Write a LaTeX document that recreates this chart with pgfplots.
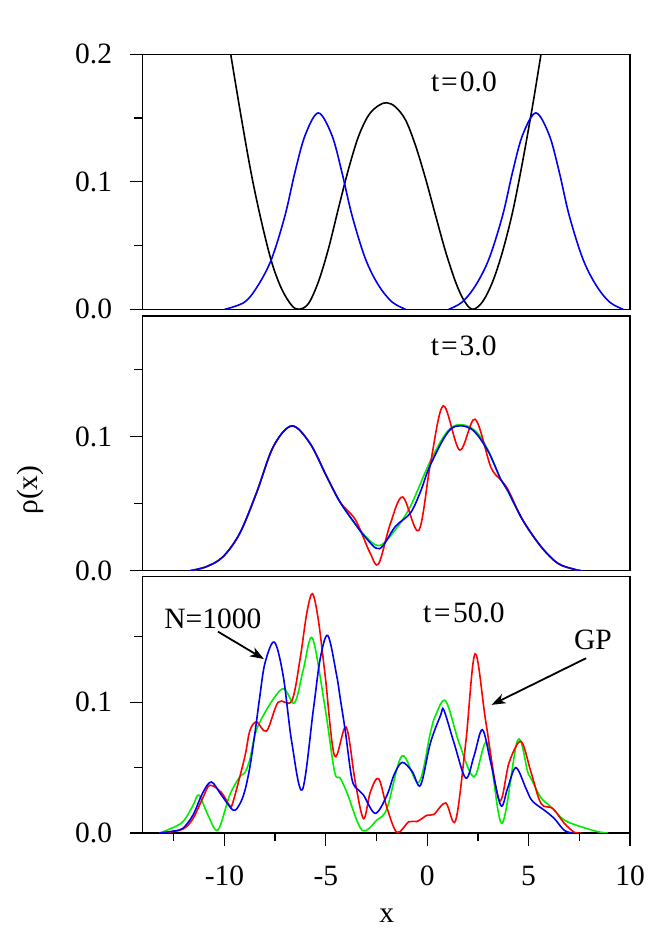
\documentclass[border=0pt]{standalone}
\usepackage{pgfplots}
\pgfplotsset{compat=1.18}
\usetikzlibrary{arrows.meta}
\usepackage{fontspec}
\setmainfont{Liberation Serif}
\newcommand\bigf{\fontsize{29.5}{34}\selectfont}
\definecolor{cR}{rgb}{1,0,0}
\definecolor{cG}{rgb}{0,0.93,0}
\definecolor{cB}{rgb}{0,0,0.95}
\pgfplotsset{
  panel/.style={
    scale only axis, width=487.7pt, xmin=-14.05, xmax=10, ymin=0,
    axis line style={line width=1.4pt},
    tick style={line width=1.3pt, black},
    tick align=outside,
    major tick length=12.5pt, minor tick length=8pt,
    ytick={0,0.1,0.2}, minor ytick={0.05,0.15},
    ytick pos=left, xtick pos=bottom,
    /pgf/number format/assume math mode=true,
    tick label style={font=\bigf},
    yticklabel style={/pgf/number format/fixed, /pgf/number format/fixed zerofill, /pgf/number format/precision=1, anchor=east, inner sep=0pt, xshift=-17.5pt},
    xticklabel style={anchor=north, inner sep=0pt, yshift=-20pt},
    every axis plot/.append style={line width=1.6pt, smooth, tension=0.55},
    clip=true,
  },
  notx/.style={xtick=\empty, minor xtick={}},
}
\begin{document}
\begin{tikzpicture}[x=1pt,y=1pt]
\useasboundingbox (0,0) rectangle (654,934);
% ---------------- top panel t=0
\begin{axis}[panel, notx, at={(142.3pt,624.7pt)}, anchor=south west, height=255pt, ymax=0.2]
\addplot[black] coordinates {(-9.69,0.2) (-9.16,0.1495) (-8.66,0.105) (-8.17,0.0685) (-7.67,0.037) (-7.18,0.016) (-6.68,0.003) (-6.32,0) (-5.86,0.0044) (-5.37,0.0214) (-4.87,0.0475) (-4.38,0.079) (-3.88,0.110) (-3.39,0.1355) (-2.89,0.1522) (-2.40,0.1598) (-2.00,0.162) (-1.57,0.1588) (-1.07,0.1485) (-0.58,0.1286) (-0.08,0.1024) (0.41,0.0737) (0.91,0.045) (1.40,0.0214) (1.81,0.007) (2.23,0) (2.72,0.0057) (3.22,0.0214) (3.71,0.045) (4.21,0.0763) (4.70,0.1155) (5.20,0.160) (5.61,0.2)};
\addplot[cB] coordinates {(-9.98,0) (-9.0,0.0057) (-8.34,0.0188) (-7.67,0.0397) (-7.01,0.0737) (-6.52,0.1077) (-6.02,0.1365) (-5.37,0.154) (-4.70,0.1365) (-4.21,0.1077) (-3.71,0.0737) (-3.05,0.0397) (-2.40,0.0188) (-1.73,0.0057) (-1.07,0)};
\addplot[cB] coordinates {(1.06,0) (1.73,0.0057) (2.39,0.0188) (3.05,0.0397) (3.72,0.0737) (4.21,0.1077) (4.70,0.1365) (5.36,0.154) (6.02,0.1365) (6.51,0.1077) (7.00,0.0737) (7.67,0.0397) (8.33,0.0188) (8.99,0.0057) (9.66,0)};
\node[font=\bigf] at (axis cs:1.81,0.1785) {t\kern2pt=\kern2pt0.0};
\end{axis}
% ---------------- middle panel t=3
\begin{axis}[panel, notx, at={(142.3pt,363.3pt)}, anchor=south west, height=254.7pt, ymax=0.19]
\addplot[cG] coordinates {(-11.7,0) (-10.89,0.003) (-10.07,0.0104) (-9.24,0.028) (-8.42,0.058) (-7.59,0.0925) (-6.68,0.108) (-5.78,0.095) (-4.95,0.070) (-4.29,0.051) (-3.30,0.030) (-2.40,0.0187) (-1.6,0.030) (-0.83,0.048) (0.16,0.082) (1.0,0.104) (1.65,0.109) (2.4,0.104) (3.0,0.090) (3.63,0.068) (3.96,0.060) (4.70,0.038) (5.61,0.018) (6.44,0.0055) (7.26,0.001) (7.6,0)};
\addplot[cR] coordinates {(-11.7,0) (-10.89,0.003) (-10.07,0.0104) (-9.24,0.028) (-8.42,0.058) (-7.59,0.0925) (-6.68,0.108) (-5.78,0.095) (-4.95,0.070) (-4.29,0.051) (-3.63,0.040) (-3.30,0.0304) (-2.81,0.013) (-2.40,0.005) (-1.82,0.035) (-1.21,0.055) (-0.42,0.030) (0.16,0.080) (0.79,0.123) (1.60,0.090) (2.36,0.113) (3.13,0.0776) (3.63,0.0677) (4.0,0.060) (4.70,0.038) (5.61,0.018) (6.44,0.0055) (7.26,0.001) (7.6,0)};
\addplot[cB] coordinates {(-11.7,0) (-10.89,0.003) (-10.07,0.0104) (-9.24,0.028) (-8.42,0.058) (-7.59,0.0925) (-6.68,0.108) (-5.78,0.095) (-4.95,0.070) (-4.29,0.051) (-3.60,0.036) (-3.05,0.025) (-2.35,0.0164) (-1.57,0.033) (-0.83,0.043) (-0.33,0.059) (0.16,0.079) (1.15,0.1055) (2.14,0.106) (2.97,0.090) (3.63,0.068) (3.96,0.060) (4.70,0.038) (5.61,0.018) (6.44,0.0055) (7.26,0.001) (7.6,0)};
\node[font=\bigf] at (axis cs:1.80,0.168) {t\kern2pt=\kern2pt3.0};
\end{axis}
% ---------------- bottom panel t=50
\begin{axis}[panel, at={(142.3pt,101pt)}, anchor=south west, height=256.3pt, ymax=0.196,
  xtick={-10,-5,0,5,10}, minor xtick={-12.5,-7.5,-2.5,2.5,7.5}]
\addplot[cG] coordinates {(-13.2,0) (-12.7,0.003) (-12.05,0.0086) (-11.55,0.021) (-11.26,0.029) (-10.81,0.0137) (-10.32,0.0023) (-9.74,0.029) (-9.24,0.043) (-9.0,0.046) (-8.75,0.056) (-8.34,0.082) (-7.18,0.110) (-6.55,0.0995) (-6.11,0.125) (-5.66,0.149) (-5.03,0.095) (-4.57,0.047) (-4.29,0.042) (-3.96,0.031) (-3.22,0.0023) (-2.48,0.0099) (-1.98,0.019) (-1.24,0.059) (-0.42,0.0386) (0.16,0.077) (0.41,0.0898) (0.91,0.101) (1.57,0.069) (2.31,0.043) (2.97,0.069) (3.68,0.0074) (4.46,0.071) (4.95,0.047) (5.11,0.042) (5.61,0.027) (6.1,0.020) (6.76,0.0099) (7.59,0.0048) (8.42,0.001) (8.9,0)};
\addplot[cR] coordinates {(-13.0,0) (-12.05,0.003) (-11.55,0.011) (-11.06,0.027) (-10.72,0.0365) (-10.15,0.031) (-9.74,0.021) (-9.57,0.024) (-9.0,0.058) (-8.75,0.078) (-8.42,0.085) (-7.92,0.078) (-7.35,0.100) (-6.68,0.101) (-6.27,0.133) (-5.94,0.168) (-5.66,0.183) (-5.37,0.163) (-5.03,0.120) (-4.57,0.059) (-4.0,0.081) (-3.55,0.039) (-3.14,0.011) (-2.81,0.031) (-2.40,0.0416) (-1.98,0.019) (-1.49,0.0005) (-0.91,0.0086) (-0.50,0.0088) (0.0,0.0137) (0.33,0.0142) (0.91,0.023) (1.40,0.0095) (1.90,0.069) (2.36,0.137) (2.89,0.085) (3.55,0.025) (4.04,0.054) (4.62,0.070) (5.11,0.047) (5.61,0.0226) (6.19,0.0188) (6.76,0.0074) (7.26,0.0005) (7.6,0)};
\addplot[cB] coordinates {(-13.2,0) (-12.5,0.0015) (-12.05,0.0036) (-11.55,0.0137) (-11.06,0.031) (-10.64,0.039) (-10.15,0.029) (-9.57,0.0175) (-9.25,0.022) (-9.0,0.032) (-8.75,0.050) (-8.5,0.076) (-8.25,0.105) (-8.0,0.130) (-7.54,0.146) (-7.10,0.120) (-6.68,0.0695) (-6.16,0.033) (-5.61,0.095) (-5.28,0.133) (-4.90,0.151) (-4.46,0.120) (-4.29,0.103) (-4.04,0.078) (-3.71,0.041) (-3.40,0.033) (-3.14,0.029) (-2.56,0.015) (-1.98,0.029) (-1.65,0.044) (-1.24,0.054) (-0.74,0.047) (-0.33,0.0365) (0.16,0.069) (0.66,0.090) (0.82,0.094) (1.32,0.069) (1.90,0.042) (2.31,0.059) (2.72,0.079) (3.13,0.054) (3.63,0.021) (3.96,0.034) (4.37,0.050) (4.87,0.034) (5.11,0.026) (5.36,0.022) (5.77,0.0175) (6.27,0.011) (6.76,0.002) (7.2,0)};
\node[font=\bigf] at (axis cs:1.81,0.168) {t\kern2.5pt=\kern2.5pt50.0};
\node[font=\bigf] at (axis cs:-10.57,0.1636) {N=1000};
\node[font=\bigf] at (axis cs:8.17,0.148) {GP};
\draw[line width=1.8pt, -{Stealth[length=14pt,width=10pt,inset=4pt]}] (axis cs:-10.32,0.154) -- (axis cs:-8.05,0.133);
\draw[line width=1.8pt, -{Stealth[length=14pt,width=10pt,inset=4pt]}] (axis cs:7.84,0.1337) -- (axis cs:3.17,0.098);
\end{axis}
\node[font=\bigf, rotate=90] at (30,444) {ρ(x)};
\node[font=\bigf, anchor=base] at (386.7,11) {x};
\end{tikzpicture}
\end{document}
